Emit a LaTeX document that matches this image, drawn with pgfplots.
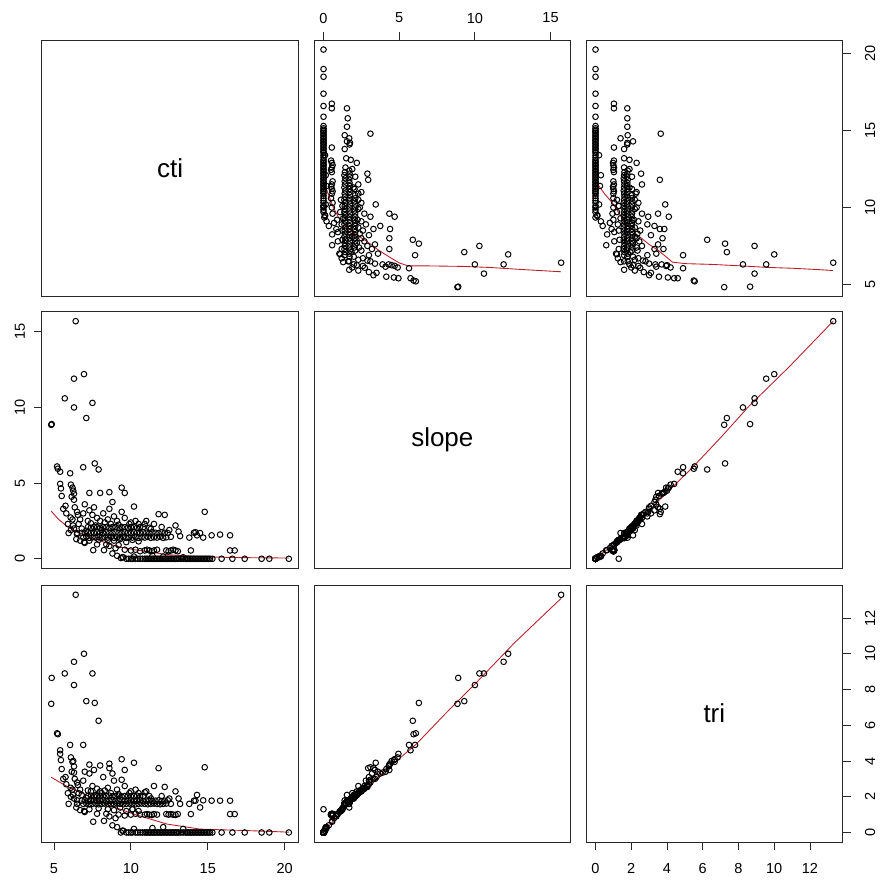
\documentclass[border=0pt]{standalone}
\usepackage{fontspec}
\setmainfont{Liberation Sans}
\usepackage{pgfplots}
\pgfplotsset{compat=1.18}
\usepackage{pgfplotstable}
\definecolor{smred}{RGB}{185,30,40}
\definecolor{axgray}{RGB}{40,40,40}
\newcommand\tickfont{\fontsize{10.9}{12}\selectfont}
\newcommand\labfont{\fontsize{19.5}{22}\selectfont}

\pgfplotstableread{
cti slope tri
9.85 0 0
10.0 0 0
10.1 0 0
10.3 0 0
10.45 0 0
10.6 0 0
10.75 0 0
10.9 0 0
11.0 0 0
11.1 0 0
11.2 0 0
11.3 0 0
11.4 0 0
11.5 0 0
11.6 0 0
11.7 0 0
11.8 0 0
11.9 0 0
12.0 0 0
12.1 0 0
12.2 0 0
12.3 0 0
12.4 0 0
12.5 0 0
12.6 0 0
12.7 0 0
12.8 0 0
12.9 0 0
13.0 0 0
13.1 0 0
13.25 0 0
13.4 0 0
13.55 0 0
13.65 0 0
13.75 0 0
13.85 0 0
13.95 0 0
14.05 0 0
14.15 0 0
14.25 0 0
14.35 0 0
14.45 0 0
14.55 0 0
14.65 0 0
14.75 0 0
14.85 0 0
14.95 0 0
15.05 0 0
15.15 0 0
15.3 0 0
15.9 0 0
16.6 0 0
17.4 0 0
18.5 0 0
19.0 0 0
20.27 0 0
9.35 0.05 0
9.5 0.1 0.1
9.7 0 0
10.2 0.15 0.2
11.4 0.2 0.25
12.1 0.15 0.3
13.4 0.1 0.2
9.1 0.2 0.3
8.8 0.35 0.4
10.1 0 1.3
9.6 0.6 0.95
10.0 0.55 1.0
10.3 0.6 1.05
10.6 0.5 1.0
10.9 0.55 1.0
11.05 0.6 1.03
11.2 0.55 1.0
11.35 0.5 0.98
11.5 0.55 1.03
11.7 0.6 1.0
12.3 0.55 1.03
12.45 0.5 1.0
12.6 0.55 1.03
12.75 0.6 1.0
12.9 0.55 0.98
13.05 0.5 1.03
13.9 0.55 1.03
16.45 0.55 1.03
16.75 0.55 1.03
7.55 0.57 0.6
8.25 0.57 0.65
8.6 0.85 0.9
9.0 0.7 0.8
6.9 1.4 1.6
7.1 1.45 1.62
7.3 1.38 1.58
7.5 1.42 1.6
7.7 1.4 1.62
7.9 1.45 1.58
8.1 1.38 1.6
8.3 1.42 1.62
8.5 1.4 1.6
8.7 1.45 1.58
8.9 1.38 1.6
9.1 1.42 1.62
9.3 1.4 1.6
9.5 1.45 1.58
9.7 1.38 1.6
9.9 1.42 1.62
10.1 1.4 1.6
10.3 1.45 1.58
10.5 1.38 1.6
10.7 1.42 1.62
10.9 1.4 1.6
11.1 1.45 1.58
11.3 1.38 1.6
11.5 1.42 1.62
11.7 1.4 1.6
11.9 1.45 1.58
12.1 1.38 1.6
12.3 1.42 1.62
12.6 1.45 1.6
13.2 1.5 1.6
13.8 1.4 1.6
14.7 1.4 1.8
15.25 1.55 1.78
16.45 1.55 1.78
6.8 1.72 1.78
7.0 1.7 1.8
7.2 1.75 1.76
7.4 1.72 1.78
7.6 1.7 1.8
7.8 1.75 1.76
8.0 1.72 1.78
8.2 1.7 1.8
8.4 1.75 1.76
8.6 1.72 1.78
8.8 1.7 1.8
9.0 1.75 1.76
9.2 1.72 1.78
9.4 1.7 1.8
9.6 1.75 1.76
9.8 1.72 1.78
10.0 1.7 1.8
10.2 1.75 1.76
10.4 1.72 1.78
10.6 1.7 1.8
10.8 1.75 1.76
11.0 1.72 1.78
11.2 1.7 1.8
11.4 1.75 1.76
11.6 1.72 1.78
11.8 1.7 1.8
12.0 1.75 1.76
12.2 1.72 1.78
12.4 1.7 1.8
13.1 1.8 1.9
14.1 1.72 1.78
14.3 1.55 2.1
14.5 1.7 1.4
15.8 1.6 1.78
14.2 1.75 1.78
7.2 2.09 2.04
7.4 2.05 2.06
7.6 2.1 2.02
7.8 2.09 2.04
8.0 2.05 2.06
8.2 2.1 2.02
8.4 2.09 2.04
8.6 2.05 2.06
8.8 2.1 2.02
9.0 2.09 2.04
9.2 2.05 2.06
9.4 2.1 2.02
9.6 2.09 2.04
9.8 2.05 2.06
10.0 2.1 2.02
10.2 2.09 2.04
10.4 2.05 2.06
10.6 2.1 2.02
10.8 2.09 2.04
11.2 2.05 2.04
12.0 2.1 2.04
11.3 1.98 1.9
6.41 15.7 13.3
6.95 12.2 10.0
6.3 11.9 9.55
5.7 10.6 8.9
6.3 10.0 8.25
7.5 10.3 8.9
7.1 9.3 7.35
4.82 8.85 7.2
4.85 8.9 8.65
7.9 5.9 6.25
7.65 6.3 7.25
6.9 6.05 4.9
6.05 5.65 4.9
5.4 5.75 4.6
5.25 5.95 5.5
5.2 6.1 5.55
5.4 4.95 4.4
5.45 4.65 4.05
5.5 4.15 3.55
5.75 3.5 3.1
6.1 4.9 4.2
6.2 4.7 3.95
6.25 4.5 4.0
6.3 4.3 3.7
6.15 4.1 3.4
6.3 3.9 3.35
7.3 4.35 3.8
8.0 4.35 3.75
8.6 4.4 3.85
9.4 4.7 4.1
9.6 4.35 3.5
10.2 3.45 3.9
8.8 3.75 3.3
11.8 2.95 3.6
12.2 2.9 2.55
14.8 3.1 3.65
6.35 3.4 3.0
6.5 3.1 2.8
6.55 2.9 2.65
6.7 2.6 2.4
6.08 2.73 2.5
6.24 2.2 2.1
7.5 2.9 2.6
7.8 2.7 2.45
8.0 2.5 2.3
8.2 3.0 3.1
8.5 2.6 2.5
8.7 2.3 2.2
8.9 2.8 2.9
9.1 2.5 2.4
9.2 2.25 2.15
7.3 3.2 3.3
7.6 3.4 3.5
8.6 3.3 3.6
7.0 3.6 3.4
6.9 3.0 2.9
7.2 2.5 2.35
9.6 2.7 2.6
10.0 2.4 2.3
10.5 2.3 2.2
9.4 3.1 2.95
11.0 2.5 2.3
11.5 2.3 2.6
6.96 1.1 1.2
6.5 1.63 1.6
7.0 1.05 1.15
7.3 1.2 1.3
7.8 0.95 1.05
6.45 1.3 1.4
6.7 1.2 1.25
5.95 1.7 1.6
5.9 2.3 2.2
6.1 1.9 2.0
6.3 2.0 1.9
6.5 1.7 1.8
9.45 0.1 0.1
6.6 2.3 2.2
6.8 2.0 2.1
7.1 1.85 1.95
7.4 2.35 2.3
7.7 2.2 2.1
8.1 1.9 2.2
8.3 2.4 2.35
8.5 1.25 1.3
8.9 1.2 1.25
9.3 1.3 1.4
9.7 1.1 1.2
10.1 1.25 1.3
10.5 1.15 1.2
9.9 2.3 2.2
10.3 2.5 2.4
10.9 2.3 2.25
7.9 1.25 1.35
8.4 0.95 1.05
9.2 0.9 1.0
6.2 2.6 2.4
5.8 3.0 2.7
5.6 3.3 3.0
12.5 1.9 1.9
12.9 2.2 2.3
}\pts

\pgfplotsset{
  panel/.style={scale only axis, width=192.5pt, height=192.5pt, anchor=south west,
    axis line style={line width=0.7pt, axgray},
    every tick/.style={line width=0.7pt, axgray},
    major tick length=6pt, tick align=outside,
    xtick=\empty, ytick=\empty,
    ticklabel style={font=\tickfont, text=black},
    /pgf/number format/assume math mode=true,
    clip=true},
  ctix/.style={xmin=4.20, xmax=20.89},
  slopex/.style={xmin=-0.628, xmax=16.33},
  trix/.style={xmin=-0.532, xmax=13.83},
  ctiy/.style={ymin=4.20, ymax=20.89},
  slopey/.style={ymin=-0.628, ymax=16.33},
  triy/.style={ymin=-0.532, ymax=13.83},
  dots/.style={only marks, mark=o, mark size=2.1pt, mark options={line width=0.75pt, black}},
  lo/.style={no marks, smred, line width=0.65pt},
  topx/.style={xtick pos=right, xticklabel pos=right, xticklabel style={anchor=center}, xticklabel shift=10.5pt},
  botx/.style={xtick pos=left, xticklabel pos=left, xticklabel style={anchor=center}, xticklabel shift=13.9pt},
  lefty/.style={ytick pos=left, yticklabel pos=left, yticklabel style={rotate=90, anchor=center}, yticklabel shift=10.3pt},
  righty/.style={ytick pos=right, yticklabel pos=right, yticklabel style={rotate=90, anchor=center}, yticklabel shift=14.6pt},
}

\begin{document}
\begin{tikzpicture}
\path[use as bounding box] (0,0) rectangle (662.25pt,660.75pt);

% Row 1
\begin{axis}[panel, at={(31.275pt,438.225pt)}, xmin=0, xmax=1, ymin=0, ymax=1]
\node at (rel axis cs:0.5,0.5) {\labfont cti};
\end{axis}
\begin{axis}[panel, slopex, ctiy, at={(235.5pt,438.225pt)}, topx, xtick={0,5,10,15}]
\addplot[dots] table[x=slope, y=cti] {\pts};
\addplot[lo] coordinates {(0,11.7) (0.3,10.9) (0.65,10.0) (1.0,9.35) (1.54,8.7) (2.2,8.2) (2.86,7.8) (3.6,7.25) (4.4,6.75) (5.0,6.4) (5.6,6.2) (7,6.2) (9.2,6.17) (11,6.1) (12.9,5.98) (15.7,5.82)};
\end{axis}
\begin{axis}[panel, trix, ctiy, at={(439.5pt,438.225pt)}, righty, ytick={5,10,15,20}]
\addplot[dots] table[x=tri, y=cti] {\pts};
\addplot[lo] coordinates {(0,11.7) (0.5,10.9) (0.94,10.3) (1.5,9.3) (2.25,8.3) (3.0,7.6) (3.56,7.17) (4.3,6.45) (5,6.35) (6.5,6.3) (8.2,6.2) (9.7,6.1) (11,6.05) (12.5,5.96) (13.3,5.9)};
\end{axis}

% Row 2
\begin{axis}[panel, ctix, slopey, at={(31.275pt,234.525pt)}, lefty, ytick={0,5,10,15}]
\addplot[dots] table[x=cti, y=slope] {\pts};
\addplot[lo] coordinates {(4.82,3.15) (5.3,2.6) (5.84,2.15) (6.4,1.8) (7.15,1.5) (8.66,0.95) (9.4,0.75) (10.18,0.61) (11.2,0.45) (12.35,0.28) (14.5,0.13) (17,0.08) (20.27,0.05)};
\end{axis}
\begin{axis}[panel, at={(235.5pt,234.525pt)}, xmin=0, xmax=1, ymin=0, ymax=1]
\node at (rel axis cs:0.5,0.5) {\labfont slope};
\end{axis}
\begin{axis}[panel, trix, slopey, at={(439.5pt,234.525pt)}]
\addplot[dots] table[x=tri, y=slope] {\pts};
\addplot[lo] coordinates {(0,0.05) (1,0.9) (2,2.0) (3.5,3.8) (5.4,6.0) (7,8.0) (8.6,10.1) (10.85,12.7) (13.3,15.7)};
\end{axis}

% Row 3
\begin{axis}[panel, ctix, triy, at={(31.275pt,29.25pt)}, botx, xtick={5,10,15,20}]
\addplot[dots] table[x=cti, y=tri] {\pts};
\addplot[lo] coordinates {(4.82,3.09) (5.8,2.6) (6.92,2.16) (8.65,1.5) (10.18,1.03) (12.35,0.47) (14.5,0.19) (17.76,0.1) (20.27,0.02)};
\end{axis}
\begin{axis}[panel, slopex, triy, at={(235.5pt,29.25pt)}]
\addplot[dots] table[x=slope, y=tri] {\pts};
\addplot[lo] coordinates {(0,0.05) (1,0.95) (2,1.85) (4,3.4) (6.16,4.97) (8,6.6) (10,8.3) (12.6,10.6) (15.7,13.1)};
\end{axis}
\begin{axis}[panel, trix, triy, at={(439.5pt,29.25pt)}, botx, righty, xtick={0,2,...,12}, ytick={0,2,...,12}]
\node at (rel axis cs:0.5,0.5) {\labfont tri};
\end{axis}
\end{tikzpicture}
\end{document}
